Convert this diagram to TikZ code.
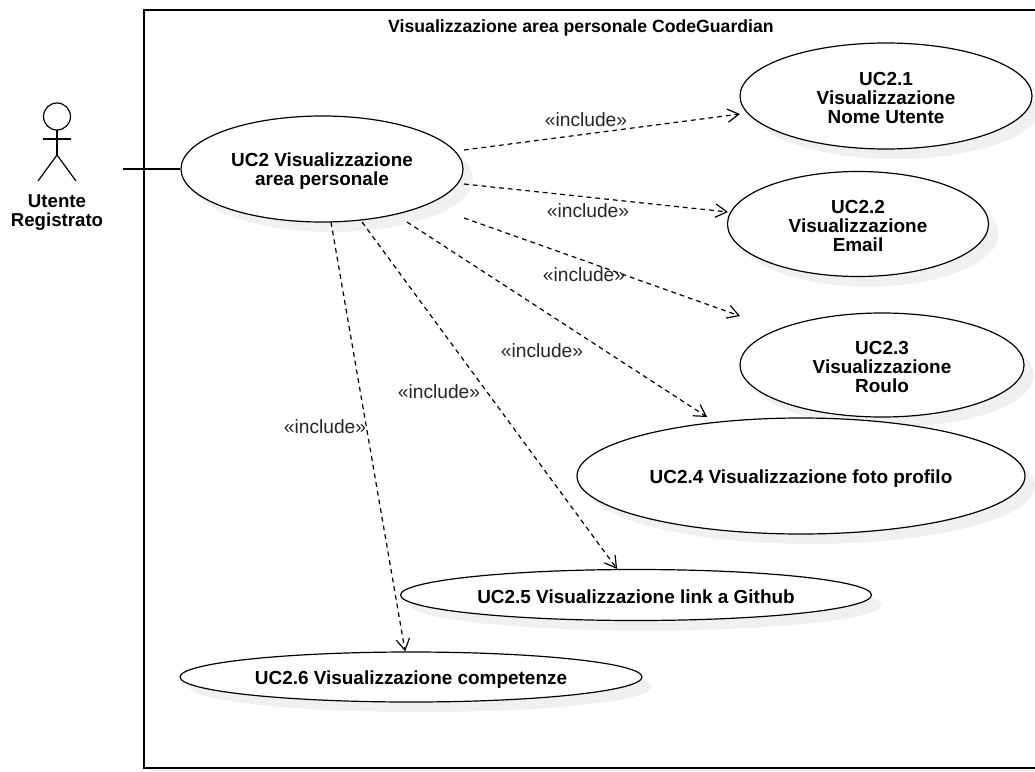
\documentclass[tikz,border=0pt]{standalone}
\usepackage{fontspec}
\setmainfont{Liberation Sans}
\usepackage{tikz}
\usetikzlibrary{shapes.geometric}
\usetikzlibrary{arrows.meta}

\tikzset{
  usecase/.style={draw,ellipse,line width=0.9pt,fill=white,align=center,font=\fontsize{14.2}{14.25}\selectfont\bfseries,inner sep=0pt,text height=13.5pt},
  ucshadow/.style={ellipse,fill=black!6,inner sep=0pt},
  inclabel/.style={font=\fontsize{14.4}{16}\selectfont,text=black!85},
  include/.style={line width=0.9pt,dash pattern=on 3.6pt off 3pt,-{Straight Barb[length=8.5pt,width=10pt,line width=0.9pt]}},
  solidline/.style={line width=0.9pt}
}

\begin{document}
\begin{tikzpicture}[x=0.75pt,y=-0.75pt]
        \useasboundingbox (0,0) rectangle (1035,771);
        % frame
        \fill[black!6] (147,13) rectangle (1035,771);
        \draw[solidline,fill=white] (1040,10)--(144,10)--(144,768)--(1040,768);
        \node[font=\fontsize{13.25}{14}\selectfont\bfseries] (title) at (581,28) {Visualizzazione area personale CodeGuardian};

        % actor
        \draw[solidline] (57,116.5) circle (13.5);
        \coordinate (neck) at (57,130);
        \coordinate (hip) at (57,155);
        \coordinate (armL) at (43,139);
        \coordinate (armR) at (71,139);
        \coordinate (footL) at (38,181);
        \coordinate (footR) at (76,181);
        \draw[solidline] (neck)--(hip);
        \draw[solidline] (armL)--(armR);
        \draw[solidline] (footL)--(hip)--(footR);
        \node[align=center,font=\fontsize{14}{14.25}\selectfont\bfseries] (actor) at (57,213) {Utente\\Registrato};
        \coordinate (hand) at (123,169);

        % shadows
        \foreach \cx/\cy/\w/\h in {322/169/282/106,886/96/292/106,858/224/261/105,882/365/284/104,801/476/448/116,636/595/471/51,411/677/462/50}
          \node[ucshadow,minimum width=\w*0.75pt,minimum height=\h*0.75pt] at (\cx+10,\cy+10) {};

        % use cases
        \node[usecase,text height=28pt,minimum width=211.5pt,minimum height=79.5pt] (uc2) at (322,169) {UC2 Visualizzazione\\area personale};
        \node[usecase,text height=42pt,minimum width=219pt,minimum height=79.5pt] (uc21) at (886,96) {UC2.1\\Visualizzazione\\Nome Utente};
        \node[usecase,text height=42pt,minimum width=195.75pt,minimum height=78.75pt] (uc22) at (858,224) {UC2.2\\Visualizzazione\\Email};
        \node[usecase,text height=42pt,minimum width=213pt,minimum height=78pt] (uc23) at (882,365) {UC2.3\\Visualizzazione\\Roulo};
        \node[usecase,minimum width=336pt,minimum height=87pt] (uc24) at (801,476) {UC2.4 Visualizzazione foto profilo};
        \node[usecase,minimum width=353.25pt,minimum height=38.25pt] (uc25) at (636,595) {UC2.5 Visualizzazione link a Github};
        \node[usecase,minimum width=346.5pt,minimum height=37.5pt] (uc26) at (411,677) {UC2.6 Visualizzazione competenze};

        % connectors
        \draw[solidline] (hand)--(uc2);
        \coordinate (a1) at (464,150);
        \coordinate (a2) at (464,184);
        \coordinate (a3) at (464,218);
        \coordinate (a4) at (407,222);
        \coordinate (a5) at (362,222);
        \coordinate (a6) at (331,222);
        \coordinate (b1) at (740,114);
        \coordinate (b2) at (728,212);
        \coordinate (b3) at (740,316);
        \coordinate (b4) at (707,417);
        \draw[include] (a1)--(b1);
        \draw[include] (a2)--(b2);
        \draw[include] (a3)--(b3);
        \draw[include] (a4)--(b4);
        \draw[include] (a5)--(uc25.126);
        \draw[include] (a6)--(uc26.103.5);

        \foreach \n/\lx/\ly in {1/586/120,2/588/211,3/584/275,4/542/351,5/439/392,6/325/427}
          \node[inclabel] (lab\n) at (\lx,\ly) {«include»};
\end{tikzpicture}
\end{document}
